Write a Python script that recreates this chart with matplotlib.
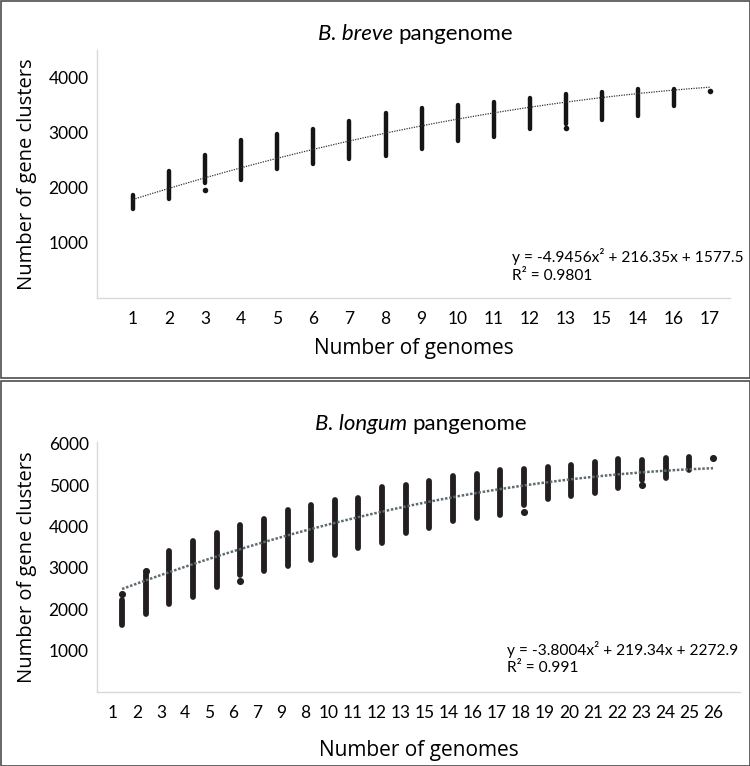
import numpy as np
import matplotlib
matplotlib.use("Agg")
import matplotlib.pyplot as plt
from matplotlib.patches import Rectangle

# ---- B. breve panel ----
breve_labels = ["1", "2", "3", "4", "5", "6", "7", "8", "9", "10", "11", "12",
                "13", "15", "14", "16", "17"]
breve_low = [1620, 1790, 2090, 2150, 2335, 2430, 2520, 2570, 2700, 2840, 2915,
             3070, 3165, 3225, 3300, 3490, 3755]
breve_high = [1860, 2310, 2600, 2860, 2980, 3070, 3210, 3360, 3450, 3500, 3555,
              3630, 3710, 3740, 3790, 3790, 3755]
breve_out_x = [3, 13, 17]
breve_out_y = [1960, 3085, 3755]
breve_coef = [-4.9456, 216.35, 1577.5]

# ---- B. longum panel ----
longum_labels = ["1", "2", "3", "4", "5", "6", "7", "9", "8", "10", "11", "12",
                 "13", "15", "14", "16", "17", "18", "19", "20", "21", "22",
                 "23", "24", "25", "26"]
longum_low = [1620, 1890, 2130, 2290, 2530, 2815, 2920, 3040, 3180, 3300, 3475,
              3600, 3840, 3960, 4130, 4210, 4280, 4510, 4670, 4730, 4810, 4930,
              5130, 5180, 5370, 5645]
longum_high = [2230, 2855, 3400, 3660, 3840, 4040, 4185, 4390, 4510, 4650, 4690,
               4950, 5010, 5100, 5210, 5270, 5355, 5380, 5435, 5490, 5550, 5620,
               5610, 5650, 5680, 5645]
longum_out_x = [1, 2, 6, 18, 23, 26]
longum_out_y = [2370, 2935, 2680, 4360, 5010, 5645]
longum_coef = [-3.8004, 219.34, 2272.9]

NARROW = ["Lato", "DejaVu Sans"]
LABEL = ["Open Sans", "DejaVu Sans"]

W, H = 750, 766
fig = plt.figure(figsize=(7.5, 7.66), dpi=100)


def px_axes(left, top, right, bottom):
    return fig.add_axes([left / W, 1 - bottom / H, (right - left) / W, (bottom - top) / H])


def panel(ax, labels, low, high, ox, oy, coef, ylim, xlim, yticks, mcolor, lw, msize,
          tcolor, tlw, tstyle, eq, r2, eq_xy, title_it, title_y, split_x,
          first_tick, xlabelpad):
    n = len(labels)
    x = np.arange(1, n + 1)
    ax.vlines(x, low, high, color=mcolor, lw=lw, capstyle="round", zorder=3)
    ax.scatter(ox, oy, s=msize, color=mcolor, zorder=3, linewidths=0)
    xf = np.linspace(1, n, 200)
    ax.plot(xf, np.polyval(coef, xf), color=tcolor, lw=tlw, linestyle=tstyle, zorder=4)

    ax.set_xlim(*xlim)
    ax.set_ylim(*ylim)
    ax.set_xticks(np.linspace(first_tick, n, n))
    ax.set_xticklabels(labels, family=NARROW, fontsize=12.5)
    ax.set_yticks(yticks)
    ax.set_yticklabels([str(v) for v in yticks], family=NARROW, fontsize=12.5)
    ax.tick_params(length=0, pad=6)
    ax.tick_params(axis="x", pad=9)
    for s in ["top", "right"]:
        ax.spines[s].set_visible(False)
    for s in ["left", "bottom"]:
        ax.spines[s].set_color("#d9d9d9")
        ax.spines[s].set_linewidth(1)

    ax.set_ylabel("Number of gene clusters", family=LABEL, fontsize=14.5, labelpad=8)
    ax.set_xlabel("Number of genomes", family=LABEL, fontsize=15, labelpad=xlabelpad)

    ex, ey = eq_xy
    fig.text(ex / W, 1 - ey / H, eq, family=NARROW, fontsize=11.2, va="center")
    fig.text(ex / W, 1 - (ey + 19) / H, r2, family=NARROW, fontsize=11.2, va="center")

    fig.text(split_x / W, 1 - title_y / H, title_it, family=NARROW, style="italic",
             fontsize=16, ha="right", va="center")
    fig.text((split_x + 5) / W, 1 - title_y / H, "pangenome", family=NARROW,
             fontsize=16, ha="left", va="center")


ax1 = px_axes(97, 50, 730, 298)
panel(ax1, breve_labels, breve_low, breve_high, breve_out_x, breve_out_y, breve_coef,
      (0, 4500), (0, 17.55), [1000, 2000, 3000, 4000], "#151515", 3.2, 16,
      "#333333", 0.9, (0, (1, 1)),
      "y = -4.9456x\u00b2 + 216.35x + 1577.5", "R\u00b2 = 0.9801", (512, 257),
      "B. breve", 34, 393, 1, 8)

ax2 = px_axes(97, 442, 740, 692)
panel(ax2, longum_labels, longum_low, longum_high, longum_out_x, longum_out_y, longum_coef,
      (0, 6040), (-0.06, 27.14), [1000, 2000, 3000, 4000, 5000, 6000], "#231f20", 4.2, 26,
      "#5f6b70", 1.8, (0, (1, 0.7)),
      "y = -3.8004x\u00b2 + 219.34x + 2272.9", "R\u00b2 = 0.991", (507, 649),
      "B. longum", 424, 407, 0.62, 14)

# panel frames
for y0, y1 in [(0.5, 378), (381, 765.5)]:
    fig.add_artist(Rectangle((0.5 / W, 1 - y1 / H), (W - 1) / W, (y1 - y0) / H,
                             transform=fig.transFigure, fill=False,
                             edgecolor="#4d4d4d", lw=1.2))

fig.savefig("out.png", dpi=100)
